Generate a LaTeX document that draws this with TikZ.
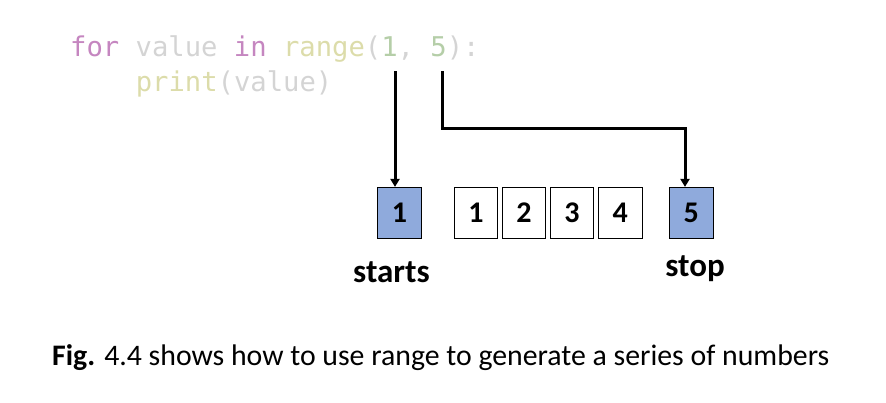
\documentclass[tikz,border=0pt]{standalone}
\usepackage{fontspec}
\setmainfont{Carlito}
\newfontfamily\codefont{DejaVu Sans Mono}
\usetikzlibrary{arrows.meta,calc}
\definecolor{kw}{HTML}{C586C0}
\definecolor{plain}{HTML}{D4D4D4}
\definecolor{fn}{HTML}{DCDCAA}
\definecolor{num}{HTML}{B5CEA8}
\definecolor{boxblue}{HTML}{8FAADC}
\begin{document}
\begin{tikzpicture}[x=1pt,y=-1pt,
  code/.style={anchor=base west,inner sep=0pt,font=\codefont\fontsize{27.2}{30}\selectfont},
  cell/.style={draw=black,line width=0.8pt,minimum width=43.5pt,minimum height=51pt,inner sep=0pt,
    font=\fontsize{30}{32}\selectfont\bfseries},
  bluecell/.style={cell,fill=boxblue},
  lbl/.style={anchor=base,inner sep=0pt,font=\fontsize{33}{36}\selectfont\bfseries},
  arr/.style={line width=3pt,-{Triangle[width=9pt,length=8pt]}}]
\useasboundingbox (0,0) rectangle (886,402);
\node[code] (line1) at (70,56.7) {\textcolor{kw}{for} \textcolor{plain}{value} \textcolor{kw}{in} \textcolor{fn}{range}\textcolor{plain}{(}\textcolor{num}{1}\textcolor{plain}{,} \textcolor{num}{5}\textcolor{plain}{):}};
\node[code] (line2) at (135.6,91.7) {\textcolor{fn}{print}\textcolor{plain}{(value)}};
\node[bluecell] (b1) at (399.5,212.8) {1};
\node[cell] (c1) at (476,212.8) {1};
\node[cell] (c2) at (524,212.8) {2};
\node[cell] (c3) at (572,212.8) {3};
\node[cell] (c4) at (620.3,212.8) {4};
\node[bluecell] (b5) at (691.3,212.8) {5};
\node[lbl] (starts) at (391.5,282) {starts};
\node[lbl] (stop) at (695,276) {stop};
\node[anchor=base west,inner sep=0pt,font=\fontsize{29.8}{32}\selectfont] (cap) at (52,365) {\textbf{Fig.} 4.4 shows how to use range to generate a series of numbers};
\coordinate (s1) at (395,71);
\coordinate (s5) at (442,71);
\coordinate (turn) at (685,128);
\draw[arr] (s1) -- (s1 |- b1.north);
\draw[arr] (s5) -- (s5 |- turn) -- (turn) -- (turn |- b5.north);
\end{tikzpicture}
\end{document}
